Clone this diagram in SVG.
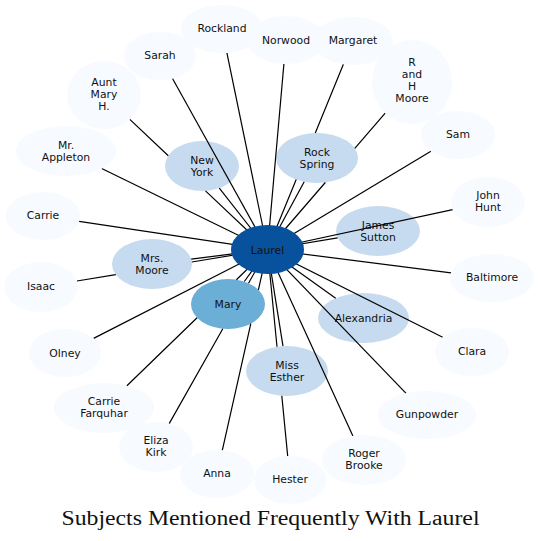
<svg xmlns="http://www.w3.org/2000/svg" width="541" height="541" viewBox="0 0 541 541">
<style>
.n0{fill:#f7fbff}
.n1{fill:#c6dbef}
.n2{fill:#6baed6}
.n3{fill:#08519c}
.lbl{font-family:"DejaVu Sans",Verdana,sans-serif;font-size:10.8px;fill:#111;text-anchor:middle}
.e{stroke:#000;stroke-width:1.2;fill:none}
.title{font-family:"Liberation Serif","Times New Roman",serif;font-size:20px;fill:#111;text-anchor:middle}
</style>
<rect width="541" height="541" fill="#fff"/>
<g id="node-new-york"><ellipse class="n1" cx="202" cy="166" rx="37" ry="25"/><text class="lbl" x="202" y="164">New</text><text class="lbl" x="202" y="176">York</text></g>
<g id="node-rock-spring"><ellipse class="n1" cx="317" cy="158" rx="41" ry="25"/><text class="lbl" x="317" y="156">Rock</text><text class="lbl" x="317" y="168">Spring</text></g>
<g id="node-james-sutton"><ellipse class="n1" cx="378" cy="231" rx="42" ry="25"/><text class="lbl" x="378" y="229">James</text><text class="lbl" x="378" y="241">Sutton</text></g>
<g id="node-mrs-moore"><ellipse class="n1" cx="152" cy="264" rx="40" ry="25"/><text class="lbl" x="152" y="262">Mrs.</text><text class="lbl" x="152" y="274">Moore</text></g>
<g id="node-mary"><ellipse class="n2" cx="228" cy="304" rx="37" ry="25"/><text class="lbl" x="228" y="308">Mary</text></g>
<g id="node-alexandria"><ellipse class="n1" cx="363.5" cy="318" rx="45.5" ry="25"/><text class="lbl" x="363.5" y="322">Alexandria</text></g>
<g id="node-miss-esther"><ellipse class="n1" cx="287" cy="371" rx="41" ry="25"/><text class="lbl" x="287" y="369">Miss</text><text class="lbl" x="287" y="381">Esther</text></g>
<g id="connectors">
<path class="e" d="M226.9,52.8L267.5,249.5"/>
<path class="e" d="M283.9,64L267.5,249.5"/>
<path class="e" d="M343.4,64.3L315.3,133M296.2,179.5L267.5,249.5"/>
<path class="e" d="M172.5,78.5L267.5,249.5"/>
<path class="e" d="M385.2,113.1L354.8,148.3M325.3,182.5L267.5,249.5"/>
<path class="e" d="M430.9,151.3L267.5,249.5"/>
<path class="e" d="M129.8,119.4L168.3,155.7M205.5,190.9L267.5,249.5"/>
<path class="e" d="M101.7,168.5L267.5,249.5"/>
<path class="e" d="M219.3,188.1L267.5,249.5"/>
<path class="e" d="M304.2,181.7L267.5,249.5"/>
<path class="e" d="M452.7,209.6L267.5,249.5"/>
<path class="e" d="M79.1,221.4L267.5,249.5"/>
<path class="e" d="M337.6,237.8L267.5,249.5"/>
<path class="e" d="M191.2,259.1L267.5,249.5"/>
<path class="e" d="M451,272.8L267.5,249.5"/>
<path class="e" d="M76.9,281L115.8,274.6M191.8,262L267.5,249.5"/>
<path class="e" d="M244.3,281.5L267.5,249.5"/>
<path class="e" d="M335.7,298.2L267.5,249.5"/>
<path class="e" d="M93.6,338.4L267.5,249.5"/>
<path class="e" d="M442.7,337.3L267.5,249.5"/>
<path class="e" d="M283,346.1L267.5,249.5"/>
<path class="e" d="M126.9,385.8L197.1,317.7M236.4,279.7L267.5,249.5"/>
<path class="e" d="M406.1,393.3L267.5,249.5"/>
<path class="e" d="M169.2,423.6L222.8,328.7M248.5,283.2L267.5,249.5"/>
<path class="e" d="M352.9,435.9L267.5,249.5"/>
<path class="e" d="M222.3,450.3L250.8,323.7M258.4,289.8L267.5,249.5"/>
<path class="e" d="M287.7,456.1L281.8,395.8M277,346.7L267.5,249.5"/>
</g>
<g id="node-rockland"><ellipse class="n0" cx="222" cy="29" rx="41" ry="24"/><text class="lbl" x="222" y="32">Rockland</text></g>
<g id="node-norwood"><ellipse class="n0" cx="286" cy="40" rx="39" ry="24"/><text class="lbl" x="286" y="44">Norwood</text></g>
<g id="node-margaret"><ellipse class="n0" cx="353" cy="41" rx="40" ry="24"/><text class="lbl" x="353" y="44">Margaret</text></g>
<g id="node-sarah"><ellipse class="n0" cx="160" cy="56" rx="36" ry="24"/><text class="lbl" x="160" y="59">Sarah</text></g>
<g id="node-r-and-h-moore"><ellipse class="n0" cx="412" cy="82" rx="40" ry="42"/><text class="lbl" x="412" y="66">R</text><text class="lbl" x="412" y="78">and</text><text class="lbl" x="412" y="90">H</text><text class="lbl" x="412" y="102">Moore</text></g>
<g id="node-sam"><ellipse class="n0" cx="458" cy="135" rx="37" ry="24"/><text class="lbl" x="458" y="138">Sam</text></g>
<g id="node-aunt-mary-h"><ellipse class="n0" cx="104" cy="95" rx="37" ry="34"/><text class="lbl" x="104" y="86">Aunt</text><text class="lbl" x="104" y="98">Mary</text><text class="lbl" x="104" y="110">H.</text></g>
<g id="node-mr-appleton"><ellipse class="n0" cx="66" cy="151" rx="50" ry="25"/><text class="lbl" x="66" y="149">Mr.</text><text class="lbl" x="66" y="161">Appleton</text></g>
<g id="node-john-hunt"><ellipse class="n0" cx="488" cy="202" rx="37" ry="25"/><text class="lbl" x="488" y="199">John</text><text class="lbl" x="488" y="211">Hunt</text></g>
<g id="node-carrie"><ellipse class="n0" cx="43" cy="216" rx="37" ry="24"/><text class="lbl" x="43" y="219">Carrie</text></g>
<g id="node-baltimore"><ellipse class="n0" cx="492" cy="278" rx="42" ry="24"/><text class="lbl" x="492" y="281">Baltimore</text></g>
<g id="node-isaac"><ellipse class="n0" cx="41" cy="287" rx="37" ry="25"/><text class="lbl" x="41" y="290">Isaac</text></g>
<g id="node-olney"><ellipse class="n0" cx="65" cy="353" rx="36" ry="24"/><text class="lbl" x="65" y="357">Olney</text></g>
<g id="node-clara"><ellipse class="n0" cx="472" cy="352" rx="37" ry="24"/><text class="lbl" x="472" y="355">Clara</text></g>
<g id="node-carrie-farquhar"><ellipse class="n0" cx="104" cy="408" rx="50" ry="25"/><text class="lbl" x="104" y="405">Carrie</text><text class="lbl" x="104" y="417">Farquhar</text></g>
<g id="node-gunpowder"><ellipse class="n0" cx="427" cy="415" rx="49" ry="24"/><text class="lbl" x="427" y="418">Gunpowder</text></g>
<g id="node-eliza-kirk"><ellipse class="n0" cx="156" cy="447" rx="37" ry="25"/><text class="lbl" x="156" y="444">Eliza</text><text class="lbl" x="156" y="456">Kirk</text></g>
<g id="node-roger-brooke"><ellipse class="n0" cx="364" cy="460" rx="42" ry="25"/><text class="lbl" x="364" y="457">Roger</text><text class="lbl" x="364" y="469">Brooke</text></g>
<g id="node-anna"><ellipse class="n0" cx="217" cy="474" rx="37" ry="24"/><text class="lbl" x="217" y="477">Anna</text></g>
<g id="node-hester"><ellipse class="n0" cx="290" cy="480" rx="36" ry="24"/><text class="lbl" x="290" y="483">Hester</text></g>
<g id="node-laurel"><ellipse class="n3" cx="267.5" cy="249.5" rx="36.5" ry="24.5"/><text class="lbl" x="267.5" y="253.5">Laurel</text></g>
<text class="title" x="270.5" y="525" textLength="418" lengthAdjust="spacingAndGlyphs">Subjects Mentioned Frequently With Laurel</text>
</svg>
